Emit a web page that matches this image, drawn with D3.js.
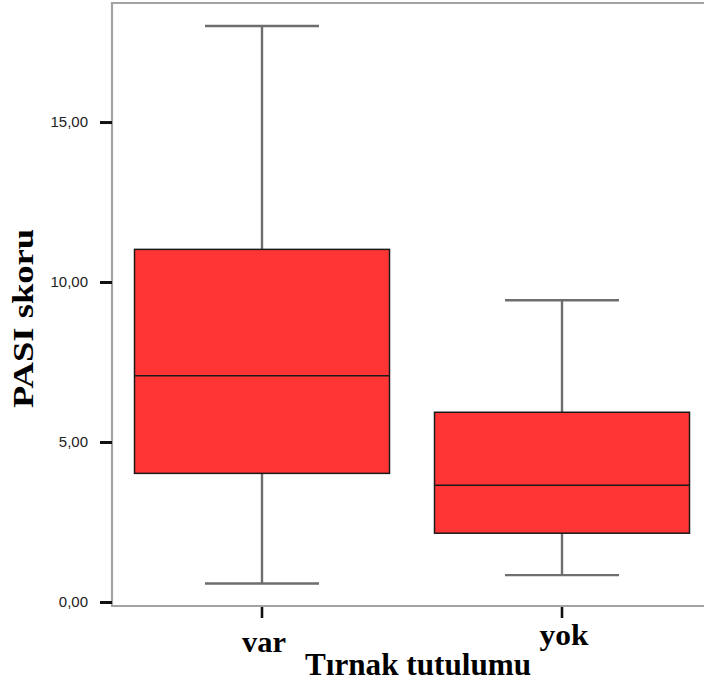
<!DOCTYPE html>
<html>
<head>
<meta charset="utf-8">
<script src="https://cdn.jsdelivr.net/npm/d3@7"></script>
<style>
  html, body { margin: 0; padding: 0; background: #fff; }
  svg { display: block; }
</style>
</head>
<body>
<svg id="chart" width="704" height="686"></svg>
<script>
// PASI scores by nail involvement (box plot summary statistics)
const categories   = ["var", "yok"];
const lowWhisker   = [0.58, 0.84];
const q1           = [4.02, 2.15];
const median       = [7.07, 3.65];
const q3           = [11.02, 5.93];
const highWhisker  = [18.0, 9.43];
const yTickValues  = [0, 5, 10, 15];
const yTitle = "PASI skoru";
const xTitle = "Tırnak tutulumu";

const svg = d3.select("#chart");

const plot = { left: 112, right: 712, top: 3, bottom: 606, zeroY: 602 };

const x = d3.scaleBand().domain(categories).range([plot.left, plot.right]);
const y = d3.scaleLinear().domain([0, 18.72]).range([plot.zeroY, plot.top]);

const fmt = d3.formatLocale({ decimal: ",", thousands: ".", grouping: [3], currency: ["", ""] }).format(".2f");

const rows = categories.map((c, i) => ({
  cat: c, lo: lowWhisker[i], q1: q1[i], med: median[i], q3: q3[i], hi: highWhisker[i]
}));

const boxW = x.bandwidth() * 0.85;
const capW = x.bandwidth() * 0.38;
const cx = d => x(d.cat) + x.bandwidth() / 2;

// plot frame
svg.append("path")
  .attr("d", `M${plot.right},${plot.top}H${plot.left}V${plot.bottom}H${plot.right}`)
  .attr("fill", "none")
  .attr("stroke", "#a3a3a3")
  .attr("stroke-width", 2.2);

const g = svg.append("g");

// whiskers and caps
const whisk = g.selectAll(".whisker").data(rows).join("g").attr("class", "whisker")
  .attr("stroke", "#6e6e6e").attr("stroke-width", 2.4);
whisk.append("line")
  .attr("x1", cx).attr("x2", cx)
  .attr("y1", d => y(d.hi)).attr("y2", d => y(d.q3));
whisk.append("line")
  .attr("x1", cx).attr("x2", cx)
  .attr("y1", d => y(d.q1)).attr("y2", d => y(d.lo));
whisk.append("line")
  .attr("x1", d => cx(d) - capW / 2).attr("x2", d => cx(d) + capW / 2)
  .attr("y1", d => y(d.hi)).attr("y2", d => y(d.hi));
whisk.append("line")
  .attr("x1", d => cx(d) - capW / 2).attr("x2", d => cx(d) + capW / 2)
  .attr("y1", d => y(d.lo)).attr("y2", d => y(d.lo));

// boxes
g.selectAll(".box").data(rows).join("rect").attr("class", "box")
  .attr("x", d => cx(d) - boxW / 2)
  .attr("width", boxW)
  .attr("y", d => y(d.q3))
  .attr("height", d => y(d.q1) - y(d.q3))
  .attr("fill", "#ff3535")
  .attr("stroke", "#1a1a1a")
  .attr("stroke-width", 1.5);

// medians
g.selectAll(".median").data(rows).join("line").attr("class", "median")
  .attr("x1", d => cx(d) - boxW / 2).attr("x2", d => cx(d) + boxW / 2)
  .attr("y1", d => y(d.med)).attr("y2", d => y(d.med))
  .attr("stroke", "#1a1a1a")
  .attr("stroke-width", 1.5);

// y axis ticks and labels
const yAxis = svg.append("g").attr("transform", `translate(${plot.left},0)`)
  .call(d3.axisLeft(y).tickValues(yTickValues).tickFormat(fmt).tickSize(12).tickPadding(12));
yAxis.select(".domain").remove();
yAxis.selectAll(".tick line").attr("stroke", "#111").attr("stroke-width", 3);
yAxis.selectAll(".tick text")
  .attr("font-family", "'Liberation Sans', Arial, sans-serif")
  .attr("font-size", 15)
  .attr("fill", "#222");

// x axis ticks and labels
const xAxis = svg.append("g").attr("transform", `translate(0,${plot.bottom + 1})`)
  .call(d3.axisBottom(x).tickSize(11).tickFormat(""));
xAxis.select(".domain").remove();
xAxis.selectAll(".tick line").attr("stroke", "#111").attr("stroke-width", 2.6);

const catLen = { var: 44, yok: 49 };
svg.selectAll(".catlabel").data(categories).join("text").attr("class", "catlabel")
  .attr("x", d => x(d) + x.bandwidth() / 2 + 2)
  .attr("y", (d, i) => i % 2 ? 645 : 652)
  .attr("text-anchor", "middle")
  .attr("font-family", "'Liberation Serif', 'Times New Roman', serif")
  .attr("font-weight", "bold")
  .attr("font-size", 29)
  .attr("textLength", d => catLen[d])
  .attr("lengthAdjust", "spacingAndGlyphs")
  .attr("fill", "#000")
  .text(d => d);

// axis titles
svg.append("text")
  .attr("x", 418).attr("y", 675)
  .attr("text-anchor", "middle")
  .attr("font-family", "'Liberation Serif', 'Times New Roman', serif")
  .attr("font-weight", "bold")
  .attr("font-size", 32)
  .attr("textLength", 226)
  .attr("lengthAdjust", "spacingAndGlyphs")
  .attr("fill", "#000")
  .text(xTitle);

svg.append("text")
  .attr("transform", "translate(33,318.5) rotate(-90)")
  .attr("text-anchor", "middle")
  .attr("font-family", "'Liberation Serif', 'Times New Roman', serif")
  .attr("font-weight", "bold")
  .attr("font-size", 30)
  .attr("textLength", 179)
  .attr("lengthAdjust", "spacingAndGlyphs")
  .attr("fill", "#000")
  .text(yTitle);
</script>
</body>
</html>
